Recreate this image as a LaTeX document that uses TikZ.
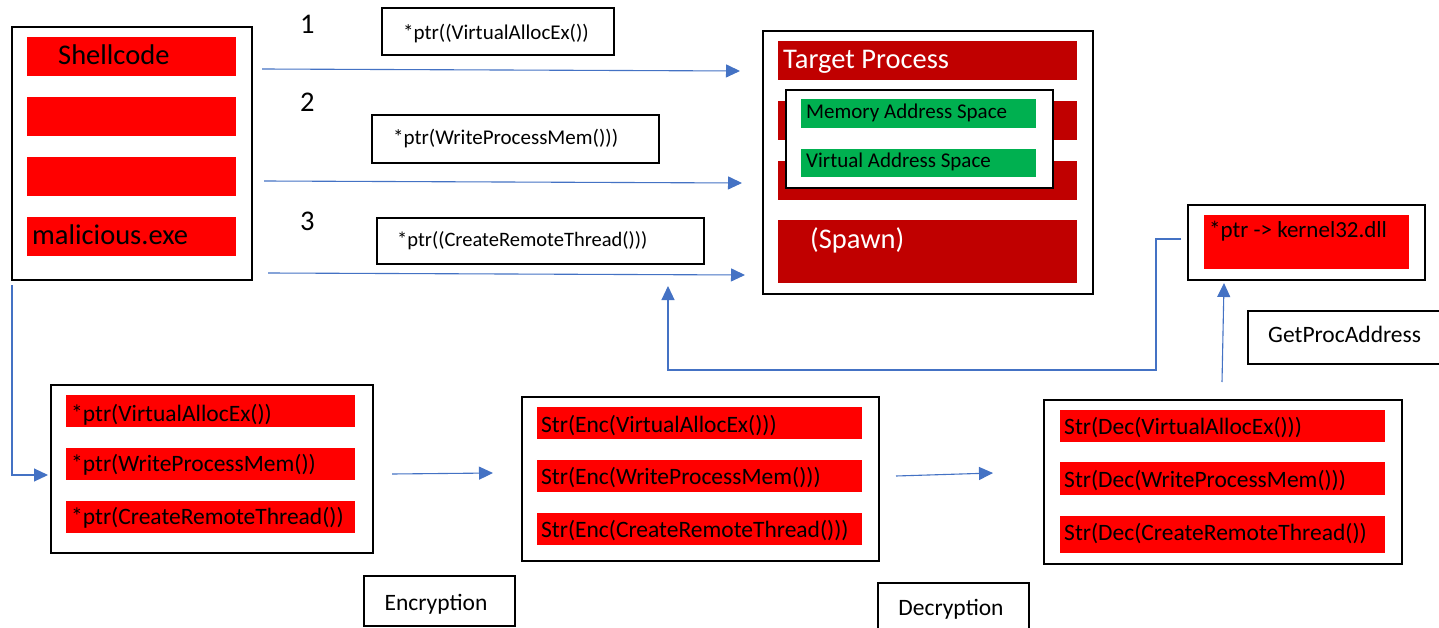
\documentclass[tikz,border=0pt]{standalone}
\usepackage{fontspec}
\setmainfont{Carlito}
\usetikzlibrary{arrows.meta}
\definecolor{brightred}{HTML}{FF0000}
\definecolor{deepred}{HTML}{C00000}
\definecolor{okgreen}{HTML}{00B050}
\definecolor{linkblue}{HTML}{4472C4}
\tikzset{
  frame/.style={draw=black, line width=1.8pt, fill=white, inner sep=0pt, anchor=north west},
  bar/.style={fill=#1, draw=none, inner sep=0pt, anchor=north west},
  lbl/.style={inner sep=0pt, anchor=base west},
  bigtxt/.style={font=\fontsize{28.5}{30}\selectfont},
  midtxt/.style={font=\fontsize{23.5}{25}\selectfont},
  smalltxt/.style={font=\fontsize{21}{23}\selectfont},
  flow/.style={draw=linkblue, line width=1.1pt, -{Triangle[length=14pt,width=13pt]}},
}
\begin{document}
\begin{tikzpicture}[x=1pt,y=-1pt]
\clip (0,0) rectangle (1439,628);
\fill[white] (0,0) rectangle (1439,628);

% ---- source binary ----
\node[frame, minimum width=240pt, minimum height=253pt] (src) at (11,26) {};
\node[bar=brightred, minimum width=209pt, minimum height=39pt] (srcA) at (27,37) {};
\node[bar=brightred, minimum width=209pt, minimum height=39pt] (srcB) at (27,97) {};
\node[bar=brightred, minimum width=209pt, minimum height=39pt] (srcC) at (27,157) {};
\node[bar=brightred, minimum width=209pt, minimum height=39pt] (srcD) at (27,217) {};
\node[lbl, bigtxt] (tShell) at (58,65) {Shellcode};
\node[lbl, bigtxt] (tMal) at (32,245) {malicious.exe};

% ---- step numbers ----
\node[lbl, bigtxt] (n1) at (300,34) {1};
\node[lbl, bigtxt] (n2) at (300,112) {2};
\node[lbl, bigtxt] (n3) at (300,231) {3};

% ---- API call labels ----
\node[frame, minimum width=232pt, minimum height=47pt] (call1) at (381,7) {};
\node[frame, minimum width=287pt, minimum height=48pt] (call2) at (371,114) {};
\node[frame, minimum width=327pt, minimum height=46pt] (call3) at (376,217) {};
\node[lbl, smalltxt] (tCall1) at (403,40) {*ptr((VirtualAllocEx())};
\node[lbl, smalltxt] (tCall2) at (393,145) {*ptr(WriteProcessMem()))};
\node[lbl, font=\fontsize{20.5}{22}\selectfont] (tCall3) at (397,247) {*ptr((CreateRemoteThread()))};

% ---- target process ----
\node[frame, minimum width=330pt, minimum height=263pt] (tgt) at (762,30) {};
\node[bar=deepred, minimum width=299pt, minimum height=39pt] (tgtA) at (778,41) {};
\node[bar=deepred, minimum width=299pt, minimum height=39pt] (tgtB) at (778,101) {};
\node[bar=deepred, minimum width=299pt, minimum height=39pt] (tgtC) at (778,161) {};
\node[bar=deepred, minimum width=299pt, minimum height=63pt] (tgtD) at (778,220) {};
\node[lbl, bigtxt, text=white] (tTarget) at (783,69) {Target Process};
\node[lbl, bigtxt, text=white] (tSpawn) at (810,249) {(Spawn)};
\node[frame, minimum width=267pt, minimum height=98pt] (mem) at (785,89) {};
\node[bar=okgreen, minimum width=235pt, minimum height=29pt] (memA) at (801,99) {};
\node[bar=okgreen, minimum width=235pt, minimum height=28pt] (memB) at (801,149) {};
\node[lbl, smalltxt] (tMem) at (806,119) {Memory Address Space};
\node[lbl, smalltxt] (tVirt) at (806,168) {Virtual Address Space};

% ---- kernel32 resolution ----
\node[frame, minimum width=237pt, minimum height=75pt] (k32) at (1187,204) {};
\node[bar=brightred, minimum width=205pt, minimum height=54pt] (k32bar) at (1204,215) {};
\node[lbl, font=\fontsize{23}{25}\selectfont] (tK32) at (1209,237) {*ptr -> kernel32.dll};
\node[frame, minimum width=200pt, minimum height=53pt] (gpa) at (1247,310) {};
\node[lbl, midtxt] (tGpa) at (1268,342) {GetProcAddress};

% ---- pointer table ----
\node[frame, minimum width=322pt, minimum height=168pt] (ptrs) at (50,384) {};
\node[bar=brightred, minimum width=289pt, minimum height=32pt] (ptrA) at (66,395) {};
\node[bar=brightred, minimum width=289pt, minimum height=32pt] (ptrB) at (66,448) {};
\node[bar=brightred, minimum width=289pt, minimum height=32pt] (ptrC) at (66,501) {};
\node[lbl, midtxt] (tPtrA) at (71,421) {*ptr(VirtualAllocEx())};
\node[lbl, midtxt] (tPtrB) at (71,471) {*ptr(WriteProcessMem())};
\node[lbl, midtxt] (tPtrC) at (71,524) {*ptr(CreateRemoteThread())};

% ---- encrypted strings ----
\node[frame, minimum width=357pt, minimum height=164pt] (enc) at (521,396) {};
\node[bar=brightred, minimum width=325pt, minimum height=32pt] (encA) at (537,407) {};
\node[bar=brightred, minimum width=325pt, minimum height=32pt] (encB) at (537,460) {};
\node[bar=brightred, minimum width=325pt, minimum height=32pt] (encC) at (537,513) {};
\node[lbl, midtxt] (tEncA) at (541,432) {Str(Enc(VirtualAllocEx()))};
\node[lbl, midtxt] (tEncB) at (541,484) {Str(Enc(WriteProcessMem()))};
\node[lbl, midtxt] (tEncC) at (541,537) {Str(Enc(CreateRemoteThread()))};

% ---- decrypted strings ----
\node[frame, minimum width=358pt, minimum height=164pt] (dec) at (1043,399) {};
\node[bar=brightred, minimum width=325pt, minimum height=32pt] (decA) at (1060,410) {};
\node[bar=brightred, minimum width=325pt, minimum height=33pt] (decB) at (1060,462) {};
\node[bar=brightred, minimum width=325pt, minimum height=37pt] (decC) at (1060,516) {};
\node[lbl, midtxt] (tDecA) at (1064,434) {Str(Dec(VirtualAllocEx()))};
\node[lbl, midtxt] (tDecB) at (1064,487) {Str(Dec(WriteProcessMem()))};
\node[lbl, midtxt] (tDecC) at (1064,540) {Str(Dec(CreateRemoteThread())};

% ---- stage captions ----
\node[frame, minimum width=151pt, minimum height=50pt] (encCap) at (363,575) {};
\node[lbl, midtxt, anchor=base] (tEncCap) at (436,610) {Encryption};
\node[frame, minimum width=151pt, minimum height=60pt] (decCap) at (877,582) {};
\node[lbl, midtxt, anchor=base] (tDecCap) at (951,615) {Decryption};

% ---- connector end points ----
\coordinate (a1s) at (262,69);  \coordinate (a1e) at (740,71);
\coordinate (a2s) at (264,181); \coordinate (a2e) at (742,183);
\coordinate (a3s) at (268,273); \coordinate (a3e) at (745,275);
\coordinate (dropTop) at (12,285); \coordinate (dropBend) at (12,475);
\coordinate (ptrIn) at (48,475);
\coordinate (e1s) at (392,474); \coordinate (e1e) at (493,473);
\coordinate (e2s) at (896,476); \coordinate (e2e) at (993,473);
\coordinate (gpaS) at (1222,382); \coordinate (gpaE) at (1224,283);
\coordinate (loopS) at (1181,239); \coordinate (loopA) at (1156,239);
\coordinate (loopB) at (1156,370); \coordinate (loopC) at (668,370);
\coordinate (loopE) at (668,286);

% ---- connectors ----
\draw[flow] (a1s) -- (a1e);
\draw[flow] (a2s) -- (a2e);
\draw[flow] (a3s) -- (a3e);
\draw[flow] (dropTop) -- (dropBend) -- (ptrIn);
\draw[flow] (e1s) -- (e1e);
\draw[flow] (e2s) -- (e2e);
\draw[flow] (gpaS) -- (gpaE);
\draw[flow] (loopS) -- (loopA) -- (loopB) -- (loopC) -- (loopE);
\end{tikzpicture}
\end{document}
